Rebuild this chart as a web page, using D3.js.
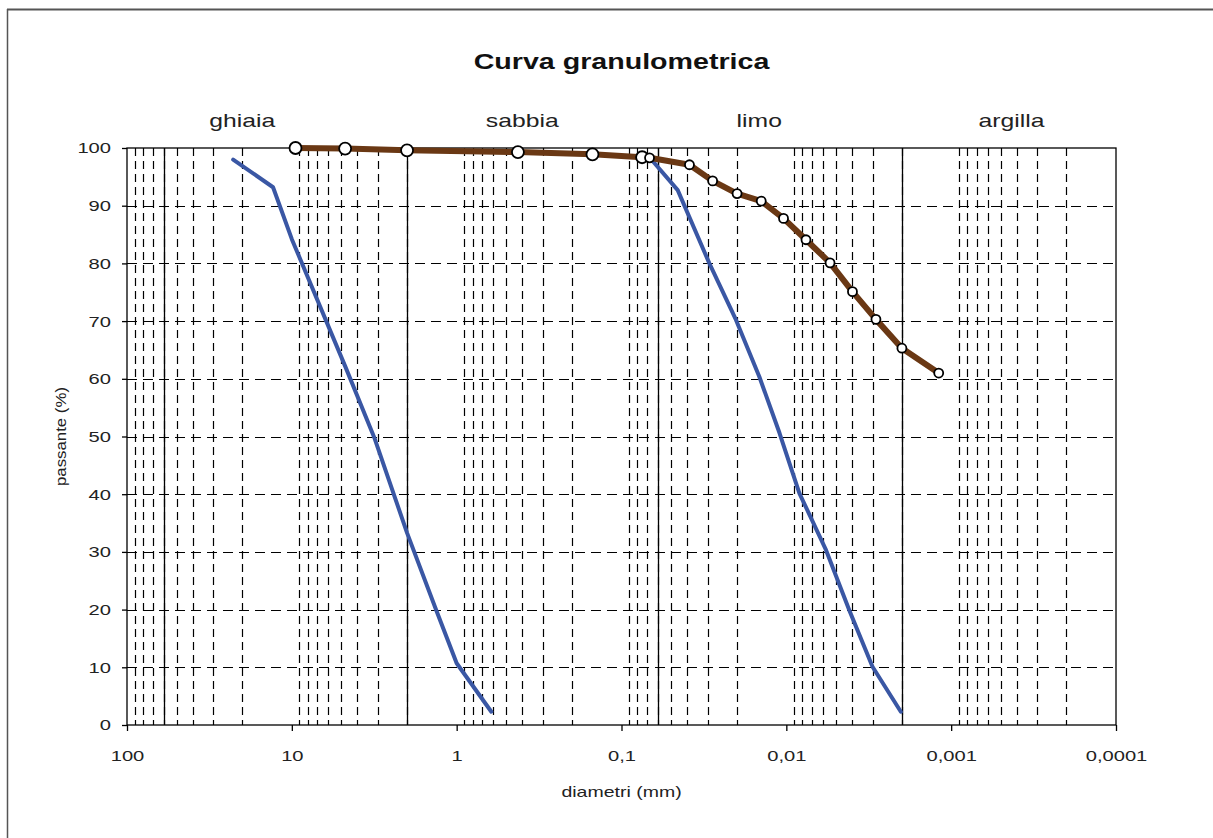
<!DOCTYPE html>
<html><head><meta charset="utf-8">
<script src="https://cdn.jsdelivr.net/npm/d3@7"></script>
<style>
html,body{margin:0;padding:0;background:#fff;}
svg{display:block;font-family:"Liberation Sans",Arial,sans-serif;}
</style></head>
<body>
<svg id="chart" width="1213" height="838"></svg>
<script>
// ---- data ----
const title = "Curva granulometrica";
const xLabel = "diametri (mm)";
const yLabel = "passante (%)";
const xTickValues = [100, 10, 1, 0.1, 0.01, 0.001, 0.0001];
const xTickLabels = ["100", "10", "1", "0,1", "0,01", "0,001", "0,0001"];
const yTickValues = [0, 10, 20, 30, 40, 50, 60, 70, 80, 90, 100];
const boundaries = [60, 2, 0.06, 0.002];
const zoneNames = ["ghiaia", "sabbia", "limo", "argilla"];
const zoneAnchors = [20, 0.40, 0.0146, 0.00043];

// sieve points (large markers)
const sieveD = [9.5, 4.75, 2, 0.425, 0.15, 0.075];
const sieveP = [100, 99.9, 99.6, 99.3, 98.9, 98.4];
// sedimentation points (small markers)
const sedD = [0.0676, 0.0387, 0.028, 0.0199, 0.0142, 0.0104, 0.0076, 0.00543, 0.00397, 0.00286, 0.00199, 0.00119];
const sedP = [98.3, 97.1, 94.3, 92.1, 90.8, 87.8, 84.1, 80.1, 75.1, 70.3, 65.3, 61.0];
// envelope (blue) curves
const envCoarseD = [22.7, 13, 10, 4.75, 3.14, 2, 1.33, 1, 0.616];
const envCoarseP = [98.0, 93.2, 84.2, 62.2, 49.6, 33.3, 19.9, 10.7, 2.3];
const envFineD = [0.0677, 0.0456, 0.0293, 0.0202, 0.0146, 0.0110, 0.00834, 0.00574, 0.00415, 0.0030, 0.00202];
const envFineP = [98.4, 92.7, 80.0, 70.2, 60.4, 50.6, 40.2, 30.3, 19.9, 10.1, 2.3];

// ---- layout ----
const svg = d3.select("#chart");
const L = 127, R = 1116, T = 148, B = 725;
const STRETCH = 1.3;
const x = d3.scaleLog().domain([100, 0.0001]).range([L, R]);
const y = d3.scaleLinear().domain([0, 100]).range([B, T]);

function stretch(sel, k) {
  sel.each(function () {
    const w = this.getComputedTextLength();
    d3.select(this).attr("textLength", w * k).attr("lengthAdjust", "spacingAndGlyphs");
  });
}

// outer frame
svg.append("line").attr("x1", 7).attr("x2", 1213).attr("y1", 9.5).attr("y2", 9.5).attr("stroke", "#555").attr("stroke-width", 2);
svg.append("line").attr("x1", 7.5).attr("x2", 7.5).attr("y1", 9).attr("y2", 838).attr("stroke", "#555").attr("stroke-width", 1.5);

// minor vertical grid
const minor = [];
for (let e = -4; e <= 1; e++) for (let k = 2; k <= 9; k++) minor.push(k * Math.pow(10, e));
const g = svg.append("g");
g.selectAll("line.vg").data(minor).join("line")
  .attr("x1", d => Math.round(x(d)) + 0.5).attr("x2", d => Math.round(x(d)) + 0.5)
  .attr("y1", T).attr("y2", B)
  .attr("stroke", "#000").attr("stroke-width", 1.2).attr("stroke-dasharray", "8,5");
// horizontal grid
g.selectAll("line.hg").data(yTickValues.filter(v => v > 0 && v < 100)).join("line")
  .attr("x1", L).attr("x2", R)
  .attr("y1", d => Math.round(y(d)) + 0.5).attr("y2", d => Math.round(y(d)) + 0.5)
  .attr("stroke", "#000").attr("stroke-width", 1.2).attr("stroke-dasharray", "10,6");
// boundaries
g.selectAll("line.bd").data(boundaries).join("line")
  .attr("x1", d => Math.round(x(d)) + 0.5).attr("x2", d => Math.round(x(d)) + 0.5)
  .attr("y1", T).attr("y2", B)
  .attr("stroke", "#000").attr("stroke-width", 1.3);
// plot box
svg.append("rect").attr("x", L).attr("y", T).attr("width", R - L).attr("height", B - T)
  .attr("fill", "none").attr("stroke", "#000").attr("stroke-width", 1.3);

// axes
const xAxis = d3.axisBottom(x).tickValues(xTickValues).tickSize(6).tickPadding(19)
  .tickFormat((d, i) => xTickLabels[i]);
const xa = svg.append("g").attr("transform", `translate(0,${B})`).call(xAxis);
xa.select(".domain").remove();
xa.selectAll("line").attr("stroke", "#000").attr("stroke-width", 1.3);
xa.selectAll("text").attr("font-size", 15.5).attr("fill", "#222").attr("font-family", "Liberation Sans, Arial, sans-serif");
stretch(xa.selectAll("text"), STRETCH);

const yAxis = d3.axisLeft(y).tickValues(yTickValues).tickSize(5).tickPadding(11);
const ya = svg.append("g").attr("transform", `translate(${L},0)`).call(yAxis);
ya.select(".domain").remove();
ya.selectAll("line").attr("stroke", "#000").attr("stroke-width", 1.3);
ya.selectAll("text").attr("font-size", 15.5).attr("fill", "#222").attr("font-family", "Liberation Sans, Arial, sans-serif");
stretch(ya.selectAll("text"), STRETCH);

// titles
const tt = svg.append("text").attr("x", (L + R) / 2).attr("y", 69).attr("text-anchor", "middle")
  .attr("font-size", 22).attr("font-weight", "bold").attr("fill", "#111").text(title);
stretch(tt, STRETCH);
const zl = svg.selectAll("text.zone").data(zoneNames).join("text").attr("class", "zone")
  .attr("x", (d, i) => x(zoneAnchors[i])).attr("y", 127).attr("text-anchor", "middle")
  .attr("font-size", 19).attr("fill", "#222").text(d => d);
stretch(zl, STRETCH);
const xl = svg.append("text").attr("x", (L + R) / 2).attr("y", 797).attr("text-anchor", "middle")
  .attr("font-size", 15).attr("fill", "#222").text(xLabel);
stretch(xl, STRETCH);
const yl = svg.append("text").attr("transform", `translate(66,${(T + B) / 2}) rotate(-90)`).attr("text-anchor", "middle")
  .attr("font-size", 15).attr("fill", "#222").text(yLabel);
stretch(yl, 1.12);

// lines
const line = d3.line().x(d => x(d[0])).y(d => y(d[1]));
const blue = "#3a57a4";
svg.append("path").datum(d3.zip(envCoarseD, envCoarseP)).attr("d", line)
  .attr("fill", "none").attr("stroke", blue).attr("stroke-width", 4).attr("stroke-linejoin", "round").attr("stroke-linecap", "round");
svg.append("path").datum(d3.zip(envFineD, envFineP)).attr("d", line)
  .attr("fill", "none").attr("stroke", blue).attr("stroke-width", 4).attr("stroke-linejoin", "round").attr("stroke-linecap", "round");

const allPts = d3.zip(sieveD, sieveP).concat(d3.zip(sedD, sedP));
svg.append("path").datum(allPts).attr("d", line)
  .attr("fill", "none").attr("stroke", "#6a3814").attr("stroke-width", 6).attr("stroke-linejoin", "round");

svg.selectAll("circle.sv").data(d3.zip(sieveD, sieveP)).join("circle")
  .attr("cx", d => x(d[0])).attr("cy", d => y(d[1])).attr("r", 6)
  .attr("fill", "#fff").attr("stroke", "#000").attr("stroke-width", 1.8);
svg.selectAll("circle.sd").data(d3.zip(sedD, sedP)).join("circle")
  .attr("cx", d => x(d[0])).attr("cy", d => y(d[1])).attr("r", 4.5)
  .attr("fill", "#fff").attr("stroke", "#000").attr("stroke-width", 1.8);
</script>
</body></html>
